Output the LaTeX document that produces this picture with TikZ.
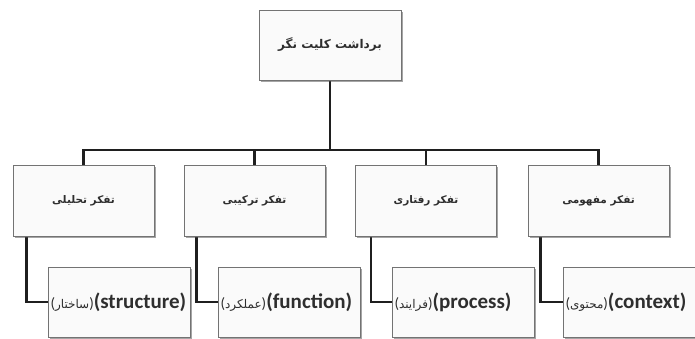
\documentclass[tikz,border=0pt]{standalone}
\usepackage{fontspec}
\setmainfont{Carlito}
\newfontfamily\arabicfont[Script=Arabic]{DejaVu Sans}
\TeXXeTstate=1
\usetikzlibrary{shadows,backgrounds}
\begin{document}
\begin{tikzpicture}[x=1pt,y=-1pt,
  box/.style={draw=black!55, fill=black!2, line width=0.8pt,
    drop shadow={shadow xshift=1.6pt, shadow yshift=-1.6pt, opacity=0.5, fill=black!70},
    inner sep=0pt, text=black!82},
  topbox/.style={box, minimum width=142pt, minimum height=70pt,
    font=\arabicfont\bfseries\fontsize{12}{14}\selectfont},
  midbox/.style={box, minimum width=141pt, minimum height=71pt,
    font=\arabicfont\bfseries\fontsize{10.5}{13}\selectfont},
  leafbox/.style={box, minimum width=142pt, minimum height=70pt,
    text width=137pt, inner xsep=2.5pt, align=left,
    font=\bfseries\fontsize{21}{22}\selectfont},
  link/.style={line width=2.6pt, draw=black!88}
]
\useasboundingbox (0,0) rectangle (695,339);

\node[topbox] (top) at (330,45) {\beginR برداشت کلیت نگر\endR};

\node[midbox] (m1) at (83.5,201) {\beginR تفکر تحلیلی\endR};
\node[midbox] (m2) at (254.5,201) {\beginR تفکر ترکیبی\endR};
\node[midbox] (m3) at (426,201) {\beginR تفکر رفتاری\endR};
\node[midbox] (m4) at (598.5,201) {\beginR تفکر مفهومی\endR};

\newcommand\arw[1]{{\mdseries\fontsize{15}{16}\selectfont(}{\mdseries\arabicfont\fontsize{12}{14}\selectfont\beginR #1\endR}{\mdseries\fontsize{15}{16}\selectfont)}}
\node[leafbox] (l1) at (119,302) {\arw{ساختار}(structure)};
\node[leafbox] (l2) at (289,302) {\arw{عملکرد}(function)};
\node[leafbox] (l3) at (463,302) {\arw{فرایند}(process)};
\node[leafbox] (l4) at (634,302) {\arw{محتوی}(context)};

\coordinate (bar) at (330,150);

\begin{scope}[on background layer]
\draw[link] (top.south) -- (bar);
\draw[link] (m1.north) |- (bar) -| (m4.north);
\draw[link] (m2.north) -- (m2.north |- bar);
\draw[link] (m3.north) -- (m3.north |- bar);
\draw[link] ([xshift=14pt]m1.south west) |- (l1.west);
\draw[link] ([xshift=13pt]m2.south west) |- (l2.west);
\draw[link] ([xshift=16pt]m3.south west) |- (l3.west);
\draw[link] ([xshift=13pt]m4.south west) |- (l4.west);
\end{scope}
\end{tikzpicture}
\end{document}
